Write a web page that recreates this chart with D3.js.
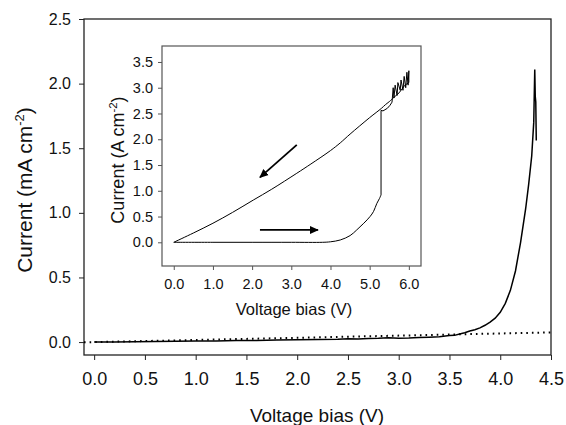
<!DOCTYPE html>
<html><head><meta charset="utf-8">
<script src="https://cdn.jsdelivr.net/npm/d3@7"></script>
<style>body{margin:0;background:#fff}svg{display:block;font-family:Arial,"Liberation Sans",sans-serif}</style>
</head><body><svg id="c" width="566" height="425"></svg>
<script>
// ---- data ----
const mainXTicks = [0,0.5,1.0,1.5,2.0,2.5,3.0,3.5,4.0,4.5];
const mainYTicks = [0,0.5,1.0,1.5,2.0,2.5];
const mainCurve = [[0,0],[0.2,0.001],[0.4,0.003],[0.6,0.004],[0.8,0.006],[1.0,0.008],[1.2,0.009],[1.4,0.012],[1.6,0.013],[1.8,0.016],[2.0,0.018],[2.2,0.02],[2.4,0.022],[2.5,0.025],[2.6,0.023],[2.7,0.028],[2.8,0.03],[2.9,0.034],[3.0,0.03],[3.1,0.031],[3.2,0.035],[3.3,0.038],[3.4,0.041],[3.5,0.05],[3.55,0.052],[3.6,0.062],[3.65,0.072],[3.7,0.085],[3.75,0.095],[3.8,0.11],[3.85,0.13],[3.9,0.155],[3.95,0.185],[4.0,0.23],[4.05,0.3],[4.1,0.4],[4.15,0.55],[4.2,0.77],[4.25,1.03],[4.28,1.22],[4.31,1.44],[4.33,1.7],[4.34,2.11],[4.345,1.9],[4.35,1.86],[4.355,1.56]];
const fitLine = [[-0.1,-0.002],[4.5,0.075]];
const insetXTicks = [0,1,2,3,4,5,6];
const insetYTicks = [0,0.5,1.0,1.5,2.0,2.5,3.0,3.5];
const insetForwardSmooth = [[0,0],[1,0],[2,0],[3,0],[3.8,0],[4.0,0.01],[4.25,0.045],[4.5,0.13],[4.67,0.24],[4.85,0.37],[5.01,0.5],[5.1,0.6],[5.18,0.75],[5.25,0.85],[5.29,0.92]];
const insetForwardJump = [[5.29,0.92],[5.29,2.56],[5.34,2.55],[5.45,2.6],[5.52,2.66],[5.57,2.72],[5.6,3.0],[5.62,2.8],[5.65,3.05],[5.7,2.85],[5.72,3.1],[5.78,2.95],[5.8,3.15],[5.85,2.95],[5.88,3.22],[5.92,3.0],[5.95,3.3],[5.98,3.05],[6.0,3.33]];
const insetReverseNoisy = [[6.0,3.33],[6.0,3.1],[5.9,3.05],[5.75,2.9],[5.6,2.8]];
const insetReverseSmooth = [[5.6,2.8],[5.5,2.73],[5.4,2.67],[5.3,2.6],[5.0,2.42],[4.5,2.1],[4.25,1.93],[4.0,1.78],[3.5,1.52],[3.14,1.34],[2.5,1.03],[2.03,0.82],[1.5,0.58],[1.0,0.37],[0.5,0.18],[0,0]];
const arrows = [[[3.14,1.89],[2.2,1.26]],[[2.2,0.24],[3.68,0.24]]];

// ---- chart ----
const FF = 'Arial,"Liberation Sans",sans-serif';
const svg = d3.select('#c');
const defs = svg.append('defs');
defs.append('marker').attr('id','ah').attr('viewBox','0 0 10 10').attr('refX',9).attr('refY',5)
  .attr('markerWidth',5).attr('markerHeight',5).attr('markerUnits','strokeWidth').attr('orient','auto')
  .append('path').attr('d','M0,0.5 L10,5 L0,9.5 Z').attr('fill','#000');

const x = d3.scaleLinear().domain([-0.1,4.5]).range([84,551]);
const y = d3.scaleLinear().domain([-0.1,2.5]).range([355,19]);

svg.append('rect').attr('x',84).attr('y',19).attr('width',467).attr('height',336)
  .attr('fill','none').attr('stroke','#222').attr('stroke-width',1.3);

const gx = svg.append('g').attr('transform','translate(0,355)')
  .call(d3.axisBottom(x).tickValues(mainXTicks).tickFormat(d3.format('.1f')).tickSize(5).tickPadding(12));
gx.select('.domain').remove();
gx.selectAll('text').attr('font-size',18).attr('fill','#111').attr('font-family',FF);
gx.selectAll('line').attr('stroke','#222');

const gy = svg.append('g').attr('transform','translate(84,0)')
  .call(d3.axisLeft(y).tickValues(mainYTicks).tickFormat(d3.format('.1f')).tickSize(5).tickPadding(8));
gy.select('.domain').remove();
gy.selectAll('text').attr('font-size',16).attr('fill','#111').attr('font-family',FF);
gy.selectAll('line').attr('stroke','#222');

svg.append('text').attr('x',317).attr('y',422).attr('text-anchor','middle').attr('font-size',19).attr('fill','#111').text('Voltage bias (V)');
const yt = svg.append('text').attr('transform','translate(32,190) rotate(-90)').attr('text-anchor','middle').attr('font-size',21).attr('fill','#111');
yt.append('tspan').text('Current (mA cm');
yt.append('tspan').attr('dy',-8).attr('font-size',13).text('-2');
yt.append('tspan').attr('dy',8).text(')');

const line = d3.line().x(d=>x(d[0])).y(d=>y(d[1]));
svg.append('path').datum(fitLine).attr('d',line).attr('fill','none').attr('stroke','#000').attr('stroke-width',2).attr('stroke-dasharray','1.6,4');
svg.append('path').datum(mainCurve).attr('d',line).attr('fill','none').attr('stroke','#000').attr('stroke-width',1.5);

// ---- inset ----
const ix = d3.scaleLinear().domain([-0.3,6.31]).range([162,421]);
const iy = d3.scaleLinear().domain([-0.46,3.81]).range([266,46]);
svg.append('rect').attr('x',162).attr('y',46).attr('width',259).attr('height',220)
  .attr('fill','#fff').attr('stroke','#555').attr('stroke-width',1.2);
const igx = svg.append('g').attr('transform','translate(0,266)')
  .call(d3.axisBottom(ix).tickValues(insetXTicks).tickFormat(d3.format('.1f')).tickSize(4).tickPadding(9));
igx.select('.domain').remove();
igx.selectAll('text').attr('font-size',14.5).attr('fill','#111').attr('font-family',FF);
igx.selectAll('line').attr('stroke','#555');
const igy = svg.append('g').attr('transform','translate(162,0)')
  .call(d3.axisLeft(iy).tickValues(insetYTicks).tickFormat(d3.format('.1f')).tickSize(4).tickPadding(5));
igy.select('.domain').remove();
igy.selectAll('text').attr('font-size',14.5).attr('fill','#111').attr('font-family',FF);
igy.selectAll('line').attr('stroke','#555');

svg.append('text').attr('x',294).attr('y',315).attr('text-anchor','middle').attr('font-size',16.5).attr('fill','#111').text('Voltage bias (V)');
const iyt = svg.append('text').attr('transform','translate(124,160) rotate(-90)').attr('text-anchor','middle').attr('font-size',18).attr('fill','#111');
iyt.append('tspan').text('Current (A cm');
iyt.append('tspan').attr('dy',-7).attr('font-size',11.5).text('-2');
iyt.append('tspan').attr('dy',7).text(')');

const iline = d3.line().x(d=>ix(d[0])).y(d=>iy(d[1]));
const ismooth = d3.line().x(d=>ix(d[0])).y(d=>iy(d[1])).curve(d3.curveCatmullRom);
[[insetForwardSmooth,ismooth],[insetForwardJump,iline],[insetReverseNoisy,iline],[insetReverseSmooth,ismooth]].forEach(([d,g])=>{
  svg.append('path').datum(d).attr('d',g).attr('fill','none').attr('stroke','#000').attr('stroke-width',1);
});
arrows.forEach(a=>{
  svg.append('line').attr('x1',ix(a[0][0])).attr('y1',iy(a[0][1])).attr('x2',ix(a[1][0])).attr('y2',iy(a[1][1]))
    .attr('stroke','#000').attr('stroke-width',1.8).attr('marker-end','url(#ah)');
});
</script></body></html>
